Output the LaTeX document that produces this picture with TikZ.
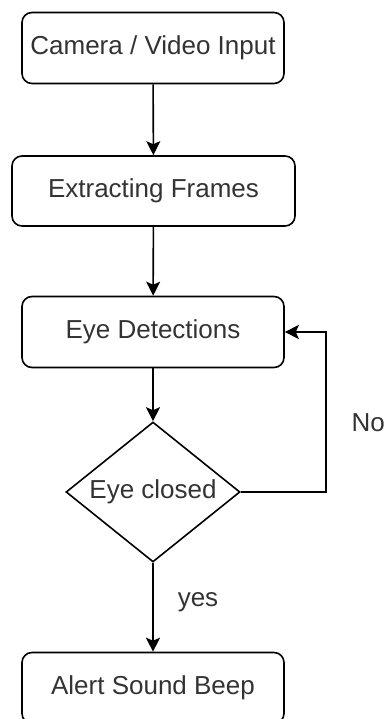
\documentclass[tikz,border=0pt]{standalone}
\usepackage{fontspec}
\setmainfont{Liberation Sans}
\usetikzlibrary{shapes.geometric, arrows.meta, positioning}

\begin{document}
\begin{tikzpicture}[
    x=1pt, y=1pt,
    stepbox/.style={
        rectangle,
        rounded corners=10pt,
        draw=black,
        line width=1.6pt,
        minimum width=262pt,
        minimum height=71pt,
        text=black!80,
        font=\fontsize{26}{30}\selectfont
    },
    decision/.style={
        diamond,
        aspect=1.24,
        draw=black,
        line width=1.6pt,
        inner sep=0pt,
        minimum width=174pt,
        minimum height=140pt,
        text=black!80,
        font=\fontsize{26}{30}\selectfont
    },
    flow/.style={line width=1.6pt, -{Stealth[length=14pt, width=14pt, inset=3pt]}},
    edgelabel/.style={text=black!80, font=\fontsize{26}{30}\selectfont, inner sep=0pt}
]
\useasboundingbox (0,0) rectangle (386,-719);
\clip (0,0) rectangle (386,-719);

\node[stepbox] (cam) at (153,-48) {Camera / Video Input};
\node[stepbox, minimum width=283pt, minimum height=70pt] (frames) at (153.5,-191) {Extracting Frames};
\node[stepbox] (det) at (153,-332) {Eye Detections};
\node[decision] (dec) at (153,-492) {Eye closed};
\node[stepbox] (alert) at (153,-688) {Alert Sound Beep};

\coordinate (loop) at (326,-492);

\draw[flow] (cam) -- (frames);
\draw[flow] (frames) -- (det);
\draw[flow] (det) -- (dec);
\draw[flow] (dec) -- (alert);
\draw[flow] (dec.east) -- (loop) |- (det.east);

\node[edgelabel] (yes) at (198,-602) {yes};
\node[edgelabel, anchor=east] (no) at (385,-423) {No};

\end{tikzpicture}
\end{document}
